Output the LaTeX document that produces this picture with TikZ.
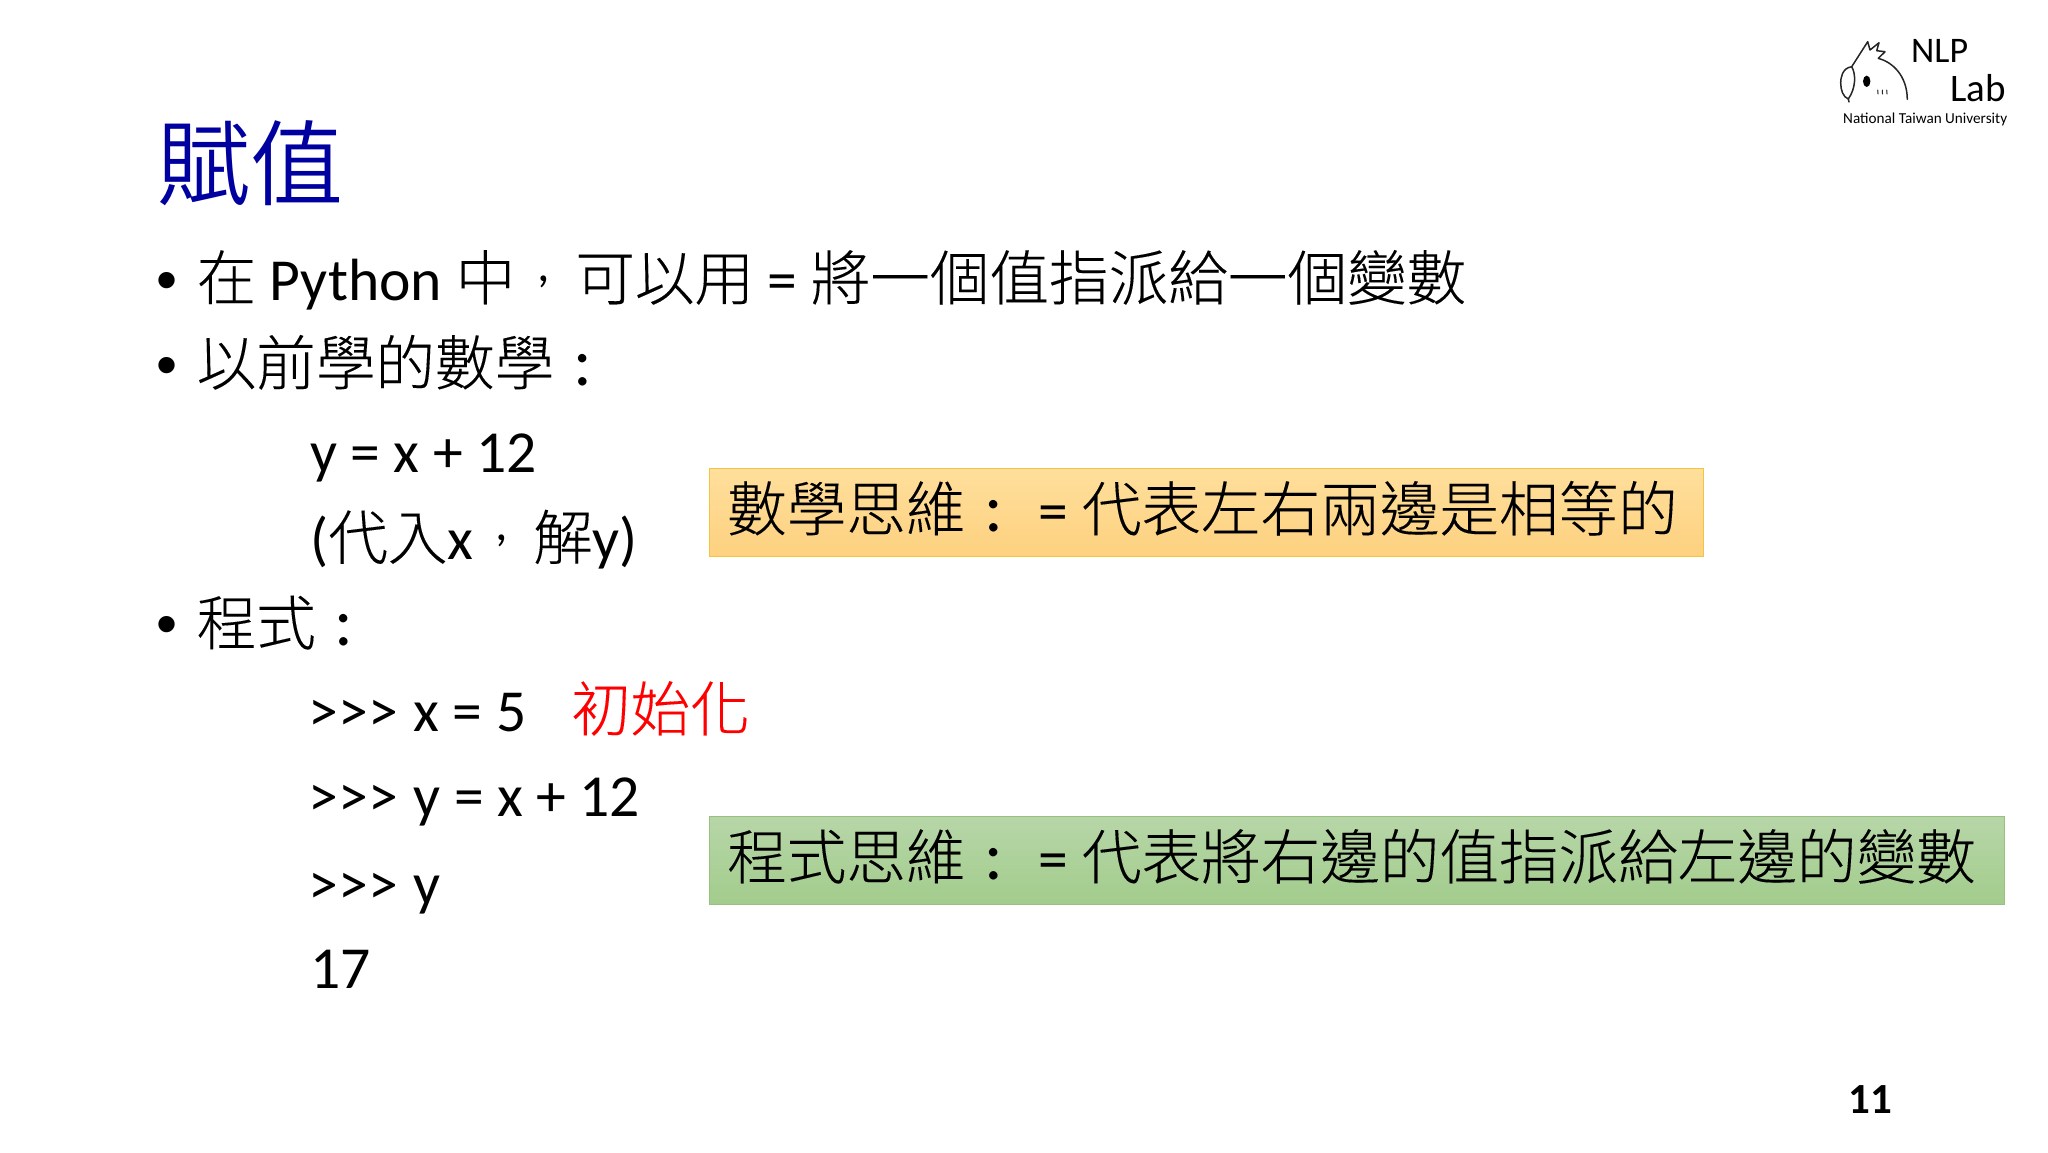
\documentclass[tikz,border=0pt]{standalone}
\usepackage{fontspec}
\setmainfont{Carlito}
\newfontfamily\cjk[FakeBold=0.15]{Noto Sans CJK TC Light}
\newfontfamily\cjktitle{Noto Sans CJK TC DemiLight}
\newfontfamily\bulfont{Liberation Sans}
\usetikzlibrary{shapes.geometric}
\definecolor{titleblue}{RGB}{0,0,160}
\newcommand{\ccomma}{\makebox[60pt][c]{\hspace{-3pt}\raisebox{19pt}{\fontsize{50}{50}\selectfont ,}}}
\newcommand{\ccolon}{\makebox[59.6pt][c]{\hspace{-3pt}\fontsize{70}{70}\selectfont :}}
\newcommand{\prompt}{>{}>{}>\hspace{2.5pt}}
\tikzset{
  line/.style={anchor=base west,inner sep=0pt,font=\fontsize{59.6}{60}\selectfont,text=black},
  bul/.style={anchor=base west,inner sep=0pt,font=\fontsize{60}{60}\selectfont\bulfont,text=black},
  notebox/.style={anchor=north west,inner sep=0pt,rectangle,line width=1.3pt},
  logoline/.style={line width=1.5pt,line join=round,line cap=round,black!85},
}
\begin{document}
\begin{tikzpicture}[x=1pt,y=-1pt]
\useasboundingbox[fill=white] (0,0) rectangle (2048,1152);
% title
\node[anchor=base west,inner sep=0pt,text=titleblue,font=\fontsize{93}{93}\selectfont\cjktitle] (title) at (157,198) {賦值};
% bullets
\node[bul] (b1) at (156.5,300) {•};
\node[bul] (b2) at (156.5,385) {•};
\node[bul] (b3) at (156.5,644) {•};
% lines
\node[line] (l1) at (196.5,300) {{\cjk 在} Python {\cjk 中}\ccomma{\cjk 可以用} = {\cjk 將一個值指派給一個變數}};
\node[line] (l2) at (196.5,385) {{\cjk 以前學的數學}\ccolon};
\node[line] (l3) at (310,472) {y = x + 12};
\node[line] (l4) at (310,559.5) {({\cjk 代入}x\ccomma{\cjk 解}y)};
\node[line] (l5) at (196.5,645) {{\cjk 程式}\ccolon};
\node[line] (l6) at (308.5,731) {\prompt{} x = 5};
\node[line] (l7) at (308.5,816.5) {\prompt{} y = x + 12};
\node[line] (l8) at (308.5,904) {\prompt{} y};
\node[line] (l9) at (310,988.5) {17};
\node[line,text=red] (init) at (571,731) {{\cjk 初始化}};
% boxes
\node[notebox,minimum width=994pt,minimum height=88pt,draw={rgb,255:red,245;green,194;blue,66},top color={rgb,255:red,255;green,223;blue,156},bottom color={rgb,255:red,253;green,209;blue,127}] (mathbox) at (709,468) {};
\node[line] (mathtext) at (727,531) {{\cjk 數學思維}\ccolon{} = {\cjk 代表左右兩邊是相等的}};
\node[notebox,minimum width=1295pt,minimum height=88pt,draw={rgb,255:red,155;green,191;blue,127},top color={rgb,255:red,183;green,214;blue,168},bottom color={rgb,255:red,162;green,204;blue,140}] (codebox) at (709,816) {};
\node[line] (codetext) at (727,879) {{\cjk 程式思維}\ccolon{} = {\cjk 代表將右邊的值指派給左邊的變數}};
% page number
\node[anchor=base west,inner sep=0pt,font=\fontsize{43}{43}\selectfont\bfseries] (page) at (1848,1113) {11};
% logo text
\node[anchor=base west,inner sep=0pt,font=\fontsize{36}{36}\selectfont] (nlp) at (1911,62) {NLP};
\node[anchor=base west,inner sep=0pt,font=\fontsize{39}{39}\selectfont] (lab) at (1950,101) {Lab};
\node[anchor=base west,inner sep=0pt,font=\fontsize{15.2}{15.2}\selectfont] (ntu) at (1843,123) {National Taiwan University};
% logo bird
\draw[logoline] (1851.7,66.7) -- (1867.7,41.7) -- (1870,50) -- (1879,42.7) -- (1876.7,50.7) -- (1885,51.7) -- (1878.3,58.3) .. controls (1892,62) and (1907,75) .. (1907.3,99.3);
\draw[logoline] (1851.7,66.7) .. controls (1842,68) and (1840.7,78) .. (1840.7,83) .. controls (1840.7,90) and (1843,97) .. (1848.3,99) -- (1849,102);
\draw[logoline] (1851.7,66.7) .. controls (1856,74) and (1856,88) .. (1848.3,99);
\fill[black] (1866.7,81.3) ellipse [x radius=3.7,y radius=5.7];
\draw[logoline,line width=1pt] (1877.7,90) -- (1878,94);
\draw[logoline,line width=1pt] (1882.3,90) -- (1882.5,94);
\draw[logoline,line width=1pt] (1886.7,90) -- (1887,94);
\end{tikzpicture}
\end{document}
